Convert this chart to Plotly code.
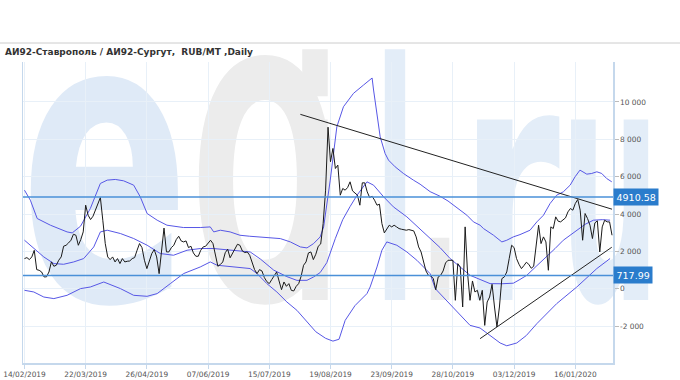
import base64
import plotly.graph_objects as go

# ---------------- data ----------------
title_text = "АИ92-Ставрополь / АИ92-Сургут,  RUB/MT ,Daily"

tick_labels = ["14/02/2019", "22/03/2019", "26/04/2019", "07/06/2019", "15/07/2019",
               "19/08/2019", "23/09/2019", "28/10/2019", "03/12/2019", "16/01/2020"]
tick_index = [0, 25, 50, 75, 100, 125, 150, 175, 200, 225]

y_ticks = [-2000, 0, 2000, 4000, 6000, 8000, 10000]
y_tick_text = ["-2 000", "0", "2 000", "4 000", "6 000", "8 000", "10 000"]

# daily spread (trading-day index 0..240)
price = [
    1617, 1670, 1563, 1706, 2060, 1027, 990, 900, 635, 640,
    900, 1440, 1205, 1260, 1528, 1706, 2280, 2330, 2456, 2600,
    2920, 2868, 2330, 2635, 3046, 4476, 3940, 3707, 3886, 4208,
    4600, 4886, 3671, 2420, 1706, 1563, 1706, 1438, 1617, 1350,
    1617, 1438, 1474, 1490, 1617, 1670, 2063, 2420, 2206, 1528,
    1080, 1438, 1885, 2100, 1706, 812, 1885, 3250, 1975, 1975,
    2206, 2330, 2635, 2814, 2563, 2510, 2563, 2206, 2278, 1920,
    1742, 1742, 2063, 2242, 2278, 2456, 2600, 2420, 1706, 1206,
    1300, 1437, 1930, 2120, 1660, 1920, 2206, 2384, 2330, 2027,
    1938, 1973, 1795, 1437, 1026, 812, 1026, 955, 597, 383,
    276, 490, 669, 901, 419, -46, 365, 133, 276, -82,
    -117, 133, 276, 669, 1258, 1437, 1920, 1973, 1562, 1848,
    2277, 2400, 3492, 5280, 8650, 6800, 7513, 6440, 6620, 5011,
    5369, 5279, 5422, 5726, 5243, 5136, 5011, 4475, 5672, 5672,
    5190, 4886, 4957, 4743, 4475, 4529, 3492, 2992, 3206, 3403,
    3313, 3403, 3313, 3224, 3188, 3170, 3135, 3170, 3135, 3099,
    2777, 2241, 1973, 1437, 955, 722, 687, 544, -50, 634,
    723, 955, 1384, 1527, 1527, 1527, -617, 1348, 1170, -975,
    3314, 812, -617, 419, -171, -81, -617, -81, -1958, -707,
    -439, 240, -975, -2047, -975, 544, 634, 901, 1616, 2331,
    2206, 1616, 1312, 1080, 1241, 1420, 1312, 1098, 1205, 2242,
    3403, 2420, 2778, 2510, 991, 3314, 3225, 3850, 3618, 3582,
    3671, 3796, 4118, 4297, 4208, 4565, 4780, 4208, 2599, 4029,
    3761, 3403, 2689, 3528, 3636, 1974, 3314, 3671, 3582, 3582,
    2867,
]

upper_idx = [0, 2.4, 5.2, 10.6, 17.4, 19.5, 22.9, 26.9, 31, 33.8, 37.1, 40.5, 44.6, 47.3,
             50.1, 54.2, 58.2, 64.9, 71.8, 75.9, 77.3, 80, 84, 88, 92, 96, 100, 104.5,
             108.6, 112.7, 115.4, 118.1, 120.8, 122.2, 124.9, 127.6, 130.3, 134.4, 138.5,
             142, 142.6, 144, 145.3, 147.3, 148.7, 151.4, 154.8, 158.9, 161.6, 165.7,
             169.8, 173, 178, 180.7, 183.4, 186.1, 187.5, 191.6, 195, 197, 199.7, 202.4,
             206.5, 209.3, 212, 214.7, 217.4, 220.1, 222.9, 224.9, 226.9, 229.7, 231.7,
             233.8, 235.8, 237.8, 239.9]
upper_val = [5280, 4744, 3762, 3404, 3045, 2991, 3350, 4297, 5639, 5816, 5853, 5780, 5548, 4920,
             4030, 3672, 3404, 3280, 3280, 3312, 3045, 3136, 3045, 2867, 2813, 2777, 2742, 2688,
             2509, 2241, 2188, 2420, 2777, 3312, 5816, 8672, 9745, 10463, 10908,
             11283, 10640, 9390, 8136, 7245, 6887, 6530, 6173, 5815, 5600, 5200,
             4950, 4700, 4200, 3940, 3582, 3404, 3225, 2867, 2510, 2599, 2780, 2900,
             3135, 3582, 3939, 4565, 5012, 5190, 5548, 5994, 6352, 6137, 6173,
             6263, 6173, 5905, 5727]

middle_idx = [0, 3.8, 7.9, 12, 16, 20.1, 24.2, 28.3, 31, 33.8, 39.2, 44.6, 50.1, 55.5, 60.9,
              66.4, 71.8, 77.3, 82.7, 88.2, 92.2, 96.3, 101.8, 107.2, 111.3, 115.4, 118.1,
              120.8, 123.5, 127, 130, 133, 135.8, 139.9, 142.6, 146.7, 150.7, 156.2, 161.6,
              165.7, 169.8, 173.9, 178, 182, 186.1, 190.2, 195, 199.7, 202.4, 205.2, 209,
              213.3, 216.7, 220.1, 225.6, 229, 232.4, 236, 239.2]
middle_val = [2600, 2155, 1705, 1350, 1313, 1437, 1619, 2240, 3045, 3136, 2958, 2691, 2332, 1887, 1796,
              2064, 2155, 2155, 2101, 2026, 1972, 1600, 1000, 650, 450, 454, 633,
              870, 1400, 2700, 3700, 4400, 5000, 5726, 5547, 4922, 4386, 3850, 3200,
              2730, 2200, 1616, 1170, 723, 500, 276, 270, 300, 500, 724, 1200,
              1704, 2150, 2600, 3136, 3450, 3672, 3700, 3672]

lower_idx = [0, 3.8, 7.9, 12, 17.4, 22.9, 26.9, 32.4, 39.2, 44.6, 50.1, 54.2, 59.6, 65, 71.8,
             75.9, 78.7, 85.4, 92.2, 95, 99, 103.1, 107.2, 111.3, 115, 119, 123, 126, 128.5,
             131, 135, 139.9, 141.2, 144, 146, 148, 152.1, 156.2, 160.3, 163, 165.7, 167.8,
             170, 173.9, 178, 182, 186.1, 190, 194.3, 197, 201.1, 205, 209.3, 217.4, 225.6,
             233.8, 239.2]
lower_val = [-80, -170, -440, -525, -348, 10, 96, 364, 10, -348, -402, -257, 279, 815, 1168,
             1437, 1260, 1168, 1083, 815, 279, -171, -707, -1154, -1700, -2300, -2650, -2800, -2700,
             -1690, -900, -257, 97, 1169, 2063, 2510, 2331, 1973, 1526, 1169, 812, 8,
             -300, -797, -1420, -1956, -2100, -2500, -2900, -3050, -2900, -2500, -1865, -793, 96,
             1083, 1619]

level_high = 4910.58
level_low = 717.99

trend_down_idx = [112.7, 240]
trend_down_val = [9338, 4261]
trend_up_idx = [186.1, 239.9]
trend_up_val = [-2669, 2224]

# ---------------- figure ----------------
W, H = 680, 380
ML, MR, MT, MB = 23, 67, 62, 17
PW, PH = W - ML - MR, H - MT - MB

band_color = "#5757e6"
level_color = "#4a90d8"
tag_color = "#2a7ccc"

fig = go.Figure()

for xs, ys in ((upper_idx, upper_val), (middle_idx, middle_val), (lower_idx, lower_val)):
    fig.add_trace(go.Scatter(x=xs, y=ys, mode="lines",
                             line=dict(color=band_color, width=1), hoverinfo="skip"))

fig.add_trace(go.Scatter(x=list(range(len(price))), y=price, mode="lines",
                         line=dict(color="#1a1a1a", width=1), hoverinfo="skip"))

fig.add_trace(go.Scatter(x=trend_down_idx, y=trend_down_val, mode="lines",
                         line=dict(color="#222222", width=1), hoverinfo="skip"))
fig.add_trace(go.Scatter(x=trend_up_idx, y=trend_up_val, mode="lines",
                         line=dict(color="#222222", width=1), hoverinfo="skip"))

for lv in (level_high, level_low):
    fig.add_hline(y=lv, line=dict(color=level_color, width=1.5))
    fig.add_annotation(xref="paper", x=1.0, xanchor="left", y=lv, yref="y",
                       text=f"{lv:.2f}", showarrow=False,
                       font=dict(family="DejaVu Sans", size=9.5, color="white"),
                       bgcolor=tag_color, borderpad=2.5)

# title + separator
fig.add_annotation(xref="paper", yref="paper", x=(3 - ML) / PW, y=1 + (MT - 52) / PH,
                   xanchor="left", yanchor="middle", text="<b>" + title_text + "</b>",
                   showarrow=False, font=dict(family="DejaVu Sans", size=9, color="#333333"))
fig.add_shape(type="line", xref="paper", yref="paper",
              x0=-ML / PW, x1=(W - ML) / PW, y0=1 + (MT - 43) / PH, y1=1 + (MT - 43) / PH,
              line=dict(color="#cccccc", width=1))

# watermark (svg image behind plot)
svg = f'''<svg xmlns="http://www.w3.org/2000/svg" width="{W}" height="{H}">
<g font-family="DejaVu Sans" font-weight="bold">
<text x="20" y="300" font-size="400" fill="#dfeaf7" textLength="170" lengthAdjust="spacingAndGlyphs">e</text>
<text x="190" y="300" font-size="330" fill="#ececec" textLength="150" lengthAdjust="spacingAndGlyphs">O</text>
<text x="290" y="300" font-size="330" fill="#ececec" textLength="50" lengthAdjust="spacingAndGlyphs">i</text>
<text x="375" y="300" font-size="330" fill="#e3edf8" textLength="40" lengthAdjust="spacingAndGlyphs">l</text>
<text x="420" y="300" font-size="330" fill="#ececec" textLength="40" lengthAdjust="spacingAndGlyphs">.</text>
<text x="460" y="300" font-size="330" fill="#e3edf8" textLength="100" lengthAdjust="spacingAndGlyphs">r</text>
<text x="560" y="300" font-size="330" fill="#e3edf8" textLength="100" lengthAdjust="spacingAndGlyphs">u</text>
</g></svg>'''
src = "data:image/svg+xml;base64," + base64.b64encode(svg.encode("utf-8")).decode("ascii")
fig.add_layout_image(source=src, xref="paper", yref="paper",
                     x=-ML / PW, y=1 + MT / PH, sizex=W / PW, sizey=H / PH,
                     xanchor="left", yanchor="top", sizing="stretch", layer="below")

axis_line = "#c5d8ec"
grid = "#e8f0f8"
fig.update_layout(
    width=W, height=H, margin=dict(l=ML, r=MR, t=MT, b=MB, autoexpand=False),
    paper_bgcolor="white", plot_bgcolor="rgba(0,0,0,0)",
    showlegend=False, hovermode=False,
    xaxis=dict(range=[-0.6, 240.4], tickvals=tick_index, ticktext=tick_labels,
               showgrid=True, gridcolor=grid, gridwidth=1, zeroline=False,
               showline=True, linecolor=axis_line, linewidth=1.5,
               ticks="outside", ticklen=4, tickcolor=axis_line,
               tickfont=dict(family="DejaVu Sans", size=7.4, color="#555555")),
    yaxis=dict(range=[-3972, 12140], side="right", tickvals=y_ticks, ticktext=y_tick_text,
               showgrid=True, gridcolor=grid, gridwidth=1, zeroline=False,
               showline=True, linecolor=axis_line, linewidth=1.5, mirror=True,
               ticks="outside", ticklen=4, tickcolor="#bbbbbb",
               tickfont=dict(family="DejaVu Sans", size=7.4, color="#555555")),
)

fig.write_html("out.html", config={"displayModeBar": False, "staticPlot": True},
               post_script="document.body.style.margin='0';document.body.style.overflow='hidden';")
